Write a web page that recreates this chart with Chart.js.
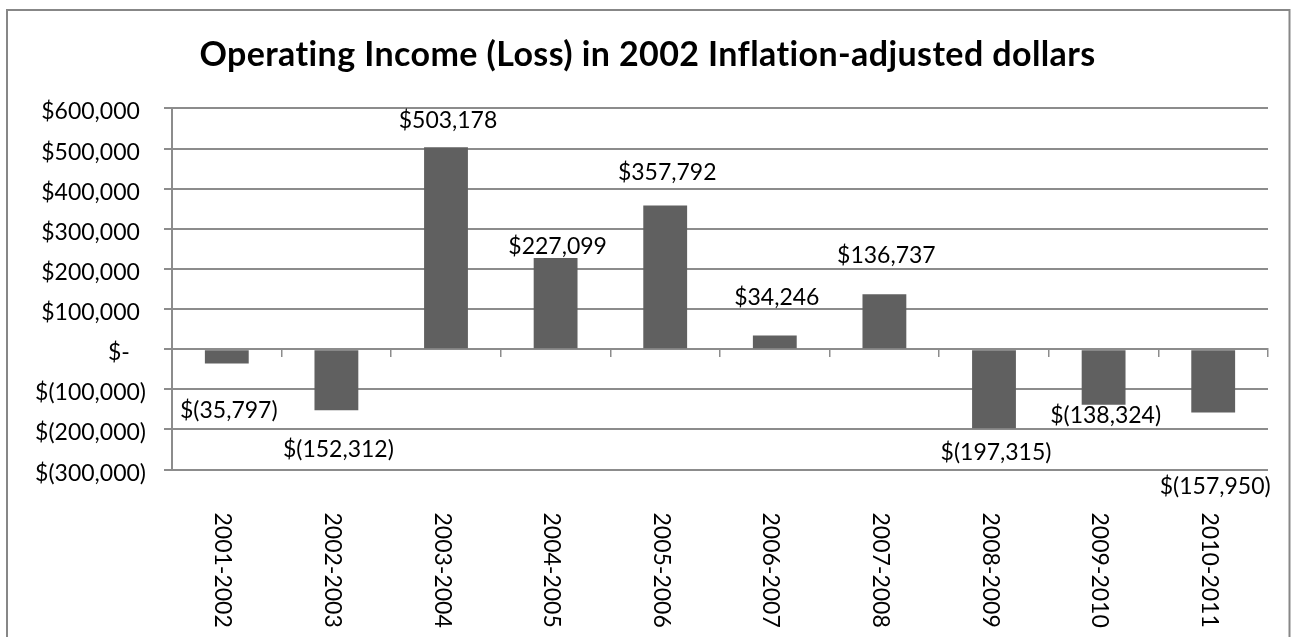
<!DOCTYPE html>
<html>
<head>
<meta charset="utf-8">
<script src="https://cdn.jsdelivr.net/npm/chart.js@4/dist/chart.umd.min.js"></script>
<style>
  html, body { margin: 0; padding: 0; background: #fff; }
  canvas { display: block; }
</style>
</head>
<body>
<canvas id="chart" width="1299" height="637"></canvas>
<script>
// Fiscal years on the category axis
const periods = ['2001-2002', '2002-2003', '2003-2004', '2004-2005', '2005-2006',
                 '2006-2007', '2007-2008', '2008-2009', '2009-2010', '2010-2011'];
// Operating income (loss), 2002 inflation-adjusted dollars
const operatingIncome = [-35797, -152312, 503178, 227099, 357792,
                         34246, 136737, -197315, -138324, -157950];
// Value axis range and step
const axisMin = -300000;
const axisMax = 600000;
const axisStep = 100000;
const chartTitle = 'Operating Income (Loss) in 2002 Inflation-adjusted dollars';

// Hand placement of each value label: px from the end of its bar to the label's centre
const labelShift = [46.7, 38.3, -27.1, -12, -33.7, -38, -39.3, 23.8, 10.5, 73];

const FONT = 'Lato, "Open Sans", sans-serif';
const LINE = '#8c8c8c';
const PAD_LEFT = 27;
const AXIS_EDGE = 172;

function groupDigits(n) {
  return String(n).replace(/\B(?=(\d{3})+(?!\d))/g, ',');
}
// Accounting style: $1,234 / $(1,234) / $-
function money(v) {
  if (v === 0) return '$-';
  const s = groupDigits(Math.abs(v));
  return v < 0 ? '$(' + s + ')' : '$' + s;
}

const decor = {
  id: 'decor',
  beforeDraw(chart) {
    const ctx = chart.ctx;
    ctx.save();
    ctx.fillStyle = '#fff';
    ctx.fillRect(0, 0, chart.width, chart.height);
    ctx.strokeStyle = '#878787';
    ctx.lineWidth = 2;
    ctx.strokeRect(7, 10, 1282.5, 700);
    ctx.restore();
    // slight tracking for the title (also keeps "ti" from joining)
    ctx.letterSpacing = '0.4px';
  },
  beforeDatasetsDraw(chart) {
    chart.ctx.letterSpacing = '0px';
  },
  afterDraw(chart) {
    const ctx = chart.ctx;
    const x = chart.scales.x;
    const y = chart.scales.y;
    ctx.save();
    ctx.fillStyle = '#000';
    ctx.font = '23px ' + FONT;

    // value-axis labels, digits aligned, negatives hanging a parenthesis
    const right = y.right - 26;
    const paren = ctx.measureText(')').width;
    ctx.textAlign = 'right';
    ctx.textBaseline = 'alphabetic';
    y.ticks.forEach(t => {
      const v = t.value;
      const r = v < 0 ? right : (v > 0 ? right - paren : right - paren - 10);
      ctx.fillText(money(v), r, y.getPixelForValue(v) + 11);
    });

    // category labels, turned to read downward, below the plot
    const labelTop = chart.chartArea.bottom + 43;
    x.ticks.forEach((t, i) => {
      ctx.save();
      ctx.translate(x.getPixelForValue(i) - 4, labelTop);
      ctx.rotate(Math.PI / 2);
      ctx.textAlign = 'left';
      ctx.textBaseline = 'middle';
      ctx.fillText(periods[i], 0, 0);
      ctx.restore();
    });

    // value labels
    ctx.textAlign = 'center';
    ctx.textBaseline = 'alphabetic';
    const meta = chart.getDatasetMeta(0);
    meta.data.forEach((bar, i) => {
      ctx.fillText(money(operatingIncome[i]), bar.x + 2, bar.y + labelShift[i] + 8);
    });
    ctx.restore();
  }
};

new Chart(document.getElementById('chart'), {
  type: 'bar',
  data: {
    labels: periods,
    datasets: [{
      data: operatingIncome,
      backgroundColor: '#606060',
      borderWidth: 0,
      barPercentage: 0.4,
      categoryPercentage: 1.0
    }]
  },
  options: {
    responsive: false,
    animation: false,
    devicePixelRatio: 1,
    layout: { padding: { top: 0, left: PAD_LEFT, right: 31, bottom: 167.5 } },
    plugins: {
      legend: { display: false },
      tooltip: { enabled: false },
      title: {
        display: true,
        text: chartTitle,
        color: '#000',
        font: { family: FONT, size: 34, weight: 'bold', lineHeight: 1.2 },
        padding: { top: 35, bottom: 32.6 }
      }
    },
    scales: {
      x: {
        position: { y: 0 },
        offset: true,
        ticks: { display: false },
        grid: {
          display: true,
          offset: true,
          drawOnChartArea: false,
          drawTicks: true,
          tickLength: 7,
          color: LINE,
          lineWidth: 1.5
        },
        border: { display: true, color: LINE, width: 2 }
      },
      y: {
        min: axisMin,
        max: axisMax,
        ticks: { display: false, stepSize: axisStep },
        grid: { color: LINE, lineWidth: 2, drawTicks: true, tickLength: 8 },
        border: { display: true, color: LINE, width: 2 },
        afterFit(scale) { scale.width = AXIS_EDGE - PAD_LEFT; }
      }
    }
  },
  plugins: [decor]
});
</script>
</body>
</html>
